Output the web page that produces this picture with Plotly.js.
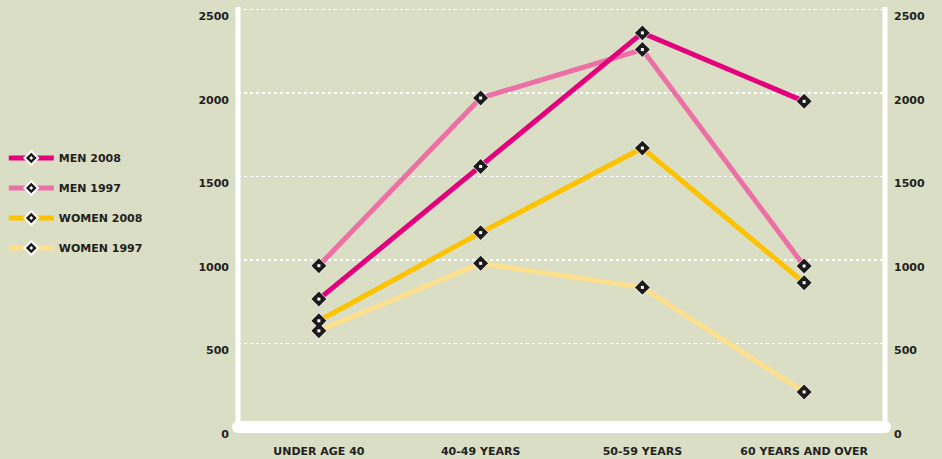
<!DOCTYPE html>
<html>
<head>
<meta charset="utf-8">
<script src="https://cdn.plot.ly/plotly-3.0.1.min.js"></script>
<style>
  html, body { margin: 0; padding: 0; background: #dadec4; }
  #chart { width: 942px; height: 459px; }
</style>
</head>
<body>
<div id="chart"></div>
<script>
// Age groups along the x axis
const categories = ['UNDER AGE 40', '40-49 YEARS', '50-59 YEARS', '60 YEARS AND OVER'];

// Values per age group
const men2008 = [766, 1560, 2360, 1950];
const men1997 = [966, 1970, 2260, 964];
const women2008 = [636, 1164, 1670, 864];
const women1997 = [576, 980, 836, 210];

// Series names and y tick values
const seriesNames = ['MEN 2008', 'MEN 1997', 'WOMEN 2008', 'WOMEN 1997'];
const yTicks = [0, 500, 1000, 1500, 2000, 2500];

const seriesValues = [men2008, men1997, women2008, women1997];
const seriesColors = ['#e4007d', '#ec70a6', '#fdc200', '#fde08e'];

const bg = '#dadec4';
const ink = '#231f20';
const labelFont = { family: 'DejaVu Sans', size: 11, color: ink, weight: 'bold' };

const traces = [];

// Lines with legend markers, drawn back to front
for (let i = seriesValues.length - 1; i >= 0; i--) {
  traces.push({
    type: 'scatter',
    mode: 'lines+markers',
    name: seriesNames[i],
    legendgroup: 'g' + i,
    legendrank: i + 1,
    x: categories,
    y: seriesValues[i],
    line: { color: seriesColors[i], width: 5 },
    marker: { symbol: 'diamond-dot', size: 10.5, color: '#1d1a1b',
              line: { color: '#ffffff', width: 2 } },
    hoverinfo: 'x+y+name'
  });
}

// Solid black diamonds on top of every point
for (let i = seriesValues.length - 1; i >= 0; i--) {
  traces.push({
    type: 'scatter',
    mode: 'markers',
    showlegend: false,
    x: categories,
    y: seriesValues[i],
    marker: { symbol: 'diamond', size: 11.5, color: '#1d1a1b' },
    hoverinfo: 'skip'
  });
}

// White centre dots (on the right-hand axis, which shares the same range)
for (let i = seriesValues.length - 1; i >= 0; i--) {
  traces.push({
    type: 'scatter',
    mode: 'markers',
    showlegend: false,
    x: categories,
    y: seriesValues[i],
    yaxis: 'y2',
    marker: { symbol: 'square', size: 3, color: '#ffffff' },
    hoverinfo: 'skip'
  });
}

const yRange = [0, 2515];

const layout = {
  width: 942,
  height: 459,
  margin: { l: 238, r: 57, t: 7, b: 32, autoexpand: false },
  paper_bgcolor: bg,
  plot_bgcolor: bg,
  showlegend: true,
  legend: {
    x: -0.362, xanchor: 'left',
    y: 0.675, yanchor: 'top',
    font: labelFont,
    bgcolor: 'rgba(0,0,0,0)',
    itemwidth: 45,
    tracegroupgap: 11,
    traceorder: 'grouped'
  },
  xaxis: {
    type: 'category',
    range: [-0.5, 3.5],
    showgrid: false,
    zeroline: false,
    showline: false,
    ticks: '',
    tickfont: labelFont,
    ticklabelstandoff: 16,
    fixedrange: true
  },
  yaxis: {
    range: yRange,
    tickvals: yTicks,
    showgrid: true,
    gridcolor: '#ffffff',
    gridwidth: 1.5,
    griddash: '3px,3px',
    zeroline: false,
    showline: false,
    ticks: '',
    tickfont: labelFont,
    ticklabelstandoff: 8,
    ticklabelshift: 7,
    fixedrange: true
  },
  yaxis2: {
    overlaying: 'y',
    side: 'right',
    range: yRange,
    tickvals: yTicks,
    showgrid: false,
    zeroline: false,
    showline: false,
    ticks: '',
    tickfont: labelFont,
    ticklabelstandoff: 8,
    ticklabelshift: 7,
    fixedrange: true
  },
  shapes: [
    // vertical axis rails
    { type: 'line', xref: 'paper', yref: 'paper', x0: 0, x1: 0, y0: 0, y1: 1,
      line: { color: '#ffffff', width: 5 }, layer: 'below' },
    { type: 'line', xref: 'paper', yref: 'paper', x0: 1, x1: 1, y0: 0, y1: 1,
      line: { color: '#ffffff', width: 5 }, layer: 'below' },
    // thick base bar with rounded ends
    { type: 'rect', xref: 'paper', yref: 'paper', x0: 0, x1: 1,
      ysizemode: 'pixel', yanchor: 0, y0: -6, y1: 6,
      fillcolor: '#ffffff', line: { width: 0 }, layer: 'above' },
    { type: 'circle', xref: 'paper', yref: 'paper',
      xsizemode: 'pixel', xanchor: 0, x0: -6, x1: 6,
      ysizemode: 'pixel', yanchor: 0, y0: -6, y1: 6,
      fillcolor: '#ffffff', line: { width: 0 }, layer: 'above' },
    { type: 'circle', xref: 'paper', yref: 'paper',
      xsizemode: 'pixel', xanchor: 1, x0: -6, x1: 6,
      ysizemode: 'pixel', yanchor: 0, y0: -6, y1: 6,
      fillcolor: '#ffffff', line: { width: 0 }, layer: 'above' }
  ]
};

Plotly.newPlot('chart', traces, layout, { displayModeBar: false, staticPlot: true });
</script>
</body>
</html>
